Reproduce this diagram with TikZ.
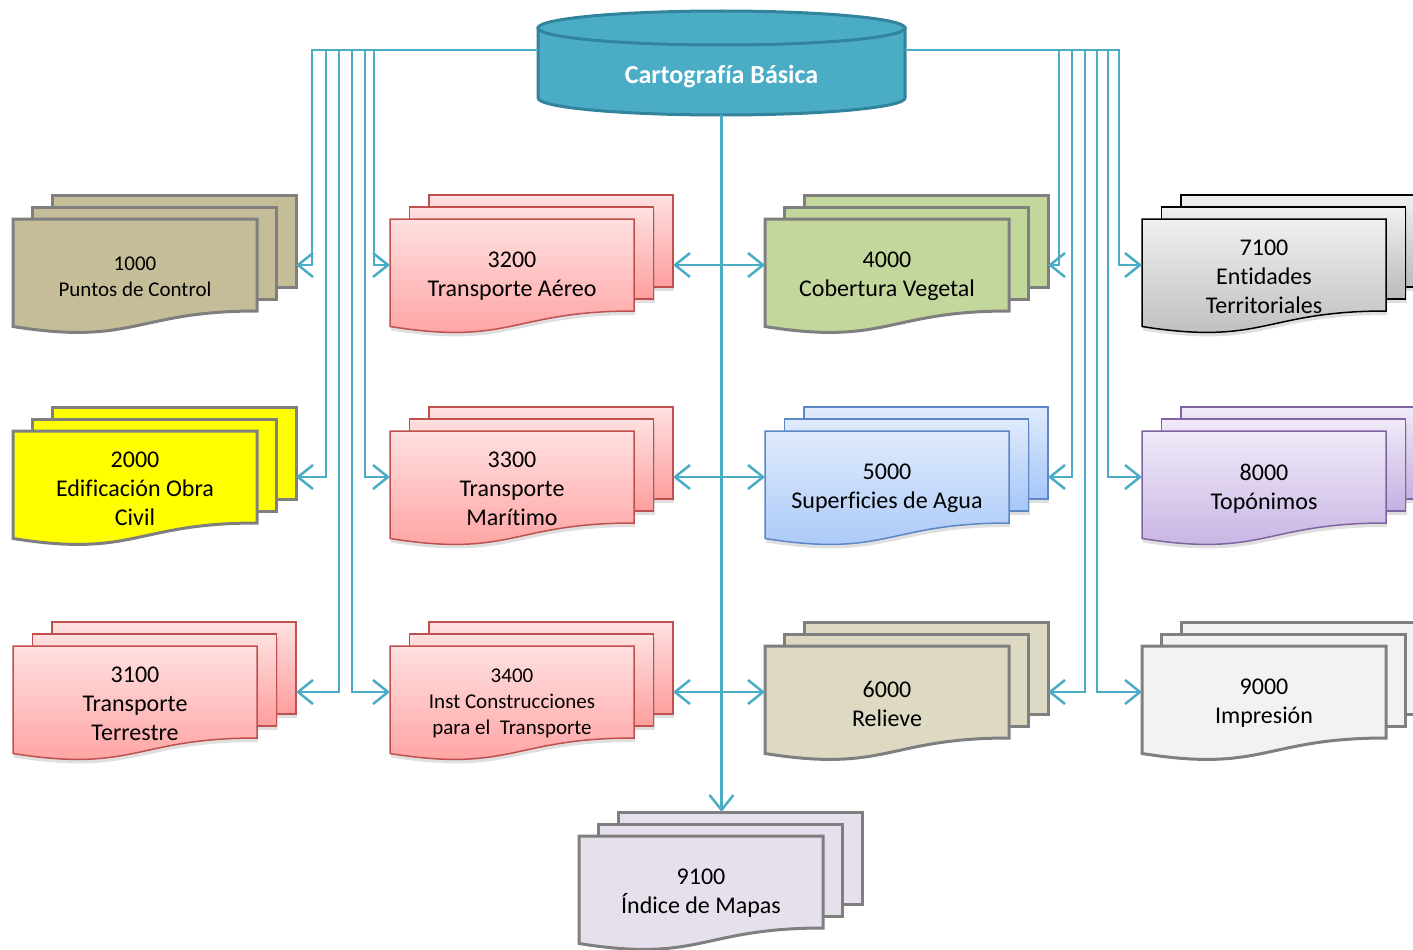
\documentclass[tikz,border=0pt]{standalone}
\usepackage{fontspec}
\setmainfont{Carlito}[Ligatures=NoCommon]
\usetikzlibrary{arrows.meta, shadows}

\definecolor{linkblue}{HTML}{4BACC6}
\definecolor{cylfill}{HTML}{4BACC6}
\definecolor{cylline}{HTML}{31849B}
\definecolor{docgray}{HTML}{7F7F7F}
\definecolor{tanfill}{HTML}{C4BD97}
\definecolor{yellowfill}{HTML}{FFFF00}
\definecolor{greenfill}{HTML}{C3D69B}
\definecolor{relievefill}{HTML}{DDD9C3}
\definecolor{printfill}{HTML}{F2F2F2}
\definecolor{indexfill}{HTML}{E5E0EC}
\definecolor{redtop}{HTML}{FFE0E0}
\definecolor{redbot}{HTML}{FF9E9E}
\definecolor{redline}{HTML}{C0504D}
\definecolor{bluetop}{HTML}{E0EBFC}
\definecolor{bluebot}{HTML}{A6C6F8}
\definecolor{blueline}{HTML}{5B87C5}
\definecolor{greytop}{HTML}{F0F0F0}
\definecolor{greybot}{HTML}{BBBBBB}
\definecolor{purptop}{HTML}{F0EAF8}
\definecolor{purpbot}{HTML}{C4B0E2}
\definecolor{purpline}{HTML}{8064A2}

% stack of three pages: [text options]{name}{x}{y}{page style}{text}
\newcommand{\multidoc}[6][]{%
  \begin{scope}[shift={(#3,#4)}]
    \path[#5] (39,-24) rectangle (283,68);
    \path[#5] (19.5,-12) rectangle (263.5,80);
    \path[#5] (0,0) -- (244,0) -- (244,92)
      .. controls (122,92) and (122,127) .. (0,107.5) -- cycle;
    \coordinate (#2-in) at (0,46);
    \coordinate (#2-out) at (283,46);
    \coordinate (#2-top) at (141.5,-24);
    \node[doctext, #1] (#2) at (122,57.5) {#6};
  \end{scope}}

\begin{document}
\begin{tikzpicture}[x=1pt, y=-1pt, line join=miter,
    doctext/.style={align=center, font=\fontsize{24}{29}\selectfont},
    smalltext/.style={font=\fontsize{21}{26}\selectfont},
    plaindoc/.style={draw=docgray, line width=3pt},
    shadedoc/.style={line width=1.5pt, drop shadow={shadow xshift=1pt, shadow yshift=-4pt, opacity=0.25}},
    reddoc/.style={shadedoc, draw=redline, top color=redtop, bottom color=redbot},
    bluedoc/.style={shadedoc, draw=blueline, top color=bluetop, bottom color=bluebot},
    greydoc/.style={shadedoc, draw=black, top color=greytop, bottom color=greybot},
    purpdoc/.style={shadedoc, draw=purpline, top color=purptop, bottom color=purpbot},
    link/.style={draw=linkblue, line width=2.5pt, -{Straight Barb[length=15pt, width=24pt]}},
    twoway/.style={link, {Straight Barb[length=15pt, width=24pt]}-{Straight Barb[length=15pt, width=24pt]}}
]
\clip (0,0) rectangle (1413,950);

% Cylinder at the top
\path[fill=cylfill, draw=cylline, line width=3pt] (538,28) -- (538,98)
    arc[start angle=180, end angle=0, x radius=183.5, y radius=17] -- (905,28) -- cycle;
\path[fill=cylfill, draw=cylline, line width=3pt] (721.5,28) ellipse[x radius=183.5, y radius=17];
\node[font=\fontsize{26}{32}\selectfont\bfseries, text=white] (carto) at (721.5,77) {Cartografía Básica};
\coordinate (cylL) at (538,50);
\coordinate (cylR) at (905,50);
\coordinate (cylB) at (721.5,115);

% Left column
\multidoc[smalltext]{p1000}{13}{219}{plaindoc, fill=tanfill}{1000\\Puntos de Control}
\multidoc{e2000}{13}{431}{plaindoc, fill=yellowfill}{2000\\Edificación Obra\\Civil}
\multidoc{t3100}{13}{646}{reddoc}{3100\\Transporte\\Terrestre}

% Second column
\multidoc{t3200}{390}{219}{reddoc}{3200\\Transporte Aéreo}
\multidoc{t3300}{390}{431}{reddoc}{3300\\Transporte\\Marítimo}
\multidoc[smalltext]{t3400}{390}{646}{reddoc}{3400\\Inst Construcciones\\para el\ \ Transporte}

% Third column
\multidoc{c4000}{765}{219}{plaindoc, fill=greenfill}{4000\\Cobertura Vegetal}
\multidoc{s5000}{765}{431}{bluedoc}{5000\\Superficies de Agua}
\multidoc{r6000}{765}{646}{plaindoc, fill=relievefill}{6000\\Relieve}

% Right column
\multidoc{e7100}{1142}{219}{greydoc}{7100\\Entidades\\Territoriales}
\multidoc{t8000}{1142}{431}{purpdoc}{8000\\Topónimos}
\multidoc{i9000}{1142}{646}{plaindoc, fill=printfill}{9000\\Impresión}

% Bottom
\multidoc{i9100}{579}{836}{plaindoc, fill=indexfill}{9100\\Índice de Mapas}

% Left bundle
\draw[link] (cylL) -| ([xshift=16]p1000-out) -- (p1000-out);
\draw[link] (cylL) -| ([xshift=30]e2000-out) -- (e2000-out);
\draw[link] (cylL) -| ([xshift=43]t3100-out) -- (t3100-out);
\draw[link] (cylL) -| ([xshift=-38]t3400-in) -- (t3400-in);
\draw[link] (cylL) -| ([xshift=-25]t3300-in) -- (t3300-in);
\draw[link] (cylL) -| ([xshift=-16]t3200-in) -- (t3200-in);

% Right bundle
\draw[link] (cylR) -| ([xshift=11]c4000-out) -- (c4000-out);
\draw[link] (cylR) -| ([xshift=24]s5000-out) -- (s5000-out);
\draw[link] (cylR) -| ([xshift=37]r6000-out) -- (r6000-out);
\draw[link] (cylR) -| ([xshift=-45]i9000-in) -- (i9000-in);
\draw[link] (cylR) -| ([xshift=-34]t8000-in) -- (t8000-in);
\draw[link] (cylR) -| ([xshift=-23]e7100-in) -- (e7100-in);

% Middle
\draw[twoway] (t3200-out) -- (c4000-in);
\draw[twoway] (t3300-out) -- (s5000-in);
\draw[twoway] (t3400-out) -- (r6000-in);
\draw[link] (cylB) -- (cylB |- i9100-top);

\end{tikzpicture}
\end{document}
